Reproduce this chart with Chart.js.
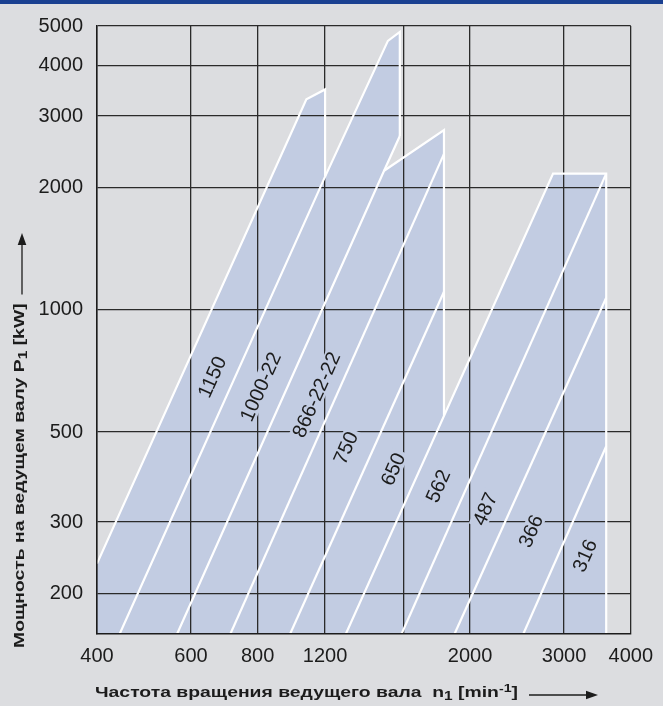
<!DOCTYPE html>
<html>
<head>
<meta charset="utf-8">
<title>Мощность на ведущем валу</title>
<script src="https://cdn.jsdelivr.net/npm/chart.js@4.4.1/dist/chart.umd.min.js"></script>
<style>
  html, body { margin: 0; padding: 0; background: #dcdde0; }
  #wrap { position: relative; width: 663px; height: 706px; overflow: hidden; }
  #bar { position: absolute; left: 0; top: 0; width: 663px; height: 4px; background: #1a4091; }
  canvas { display: block; }
</style>
</head>
<body>
<div id="wrap">
  <canvas id="chart" width="663" height="706"></canvas>
  <div id="bar"></div>
</div>
<script>
// Axis ticks (input speed n1, min^-1 / input power P1, kW)
const speedTicks = [400, 600, 800, 1070, 1500, 2000, 3000, 4000];
const speedTickLabels = ['400', '600', '800', '1200', '', '2000', '3000', '4000'];
const powerTicks = [200, 300, 500, 1000, 2000, 3000, 4000, 5000];
const powerTickLabels = ['200', '300', '500', '1000', '2000', '3000', '4000', '5000'];

// Outline of the shaded operating field
const fieldSpeed = [400, 400, 987, 1070, 1070, 1403, 1477, 1477, 1380, 1787, 1787, 2861, 3598, 3598];
const fieldPower = [159, 237, 3299, 3489, 2128, 4596, 4834, 2679, 2200, 2771, 549, 2164, 2164, 159];

// White limit lines of the sizes, [speed, power] pairs
const bound0 = [[400, 237], [987, 3299], [1070, 3489], [1070, 2128]];
const bound1 = [[441, 159], [1070, 2128], [1403, 4596], [1477, 4834], [1477, 2679]];
const bound2 = [[565, 159], [1380, 2200], [1477, 2679]];
const bound3 = [[1380, 2200], [1787, 2771], [1787, 549]];
const bound4 = [[711, 159], [1787, 2421]];
const bound5 = [[920, 159], [1787, 1108]];
const bound6 = [[1170, 159], [2861, 2164], [3598, 2164], [3598, 159]];
const bound7 = [[1488, 159], [3598, 2164]];
const bound8 = [[1870, 159], [3598, 1071]];
const bound9 = [[2516, 159], [3598, 461]];

// Size designations and where they sit
const sizeNames = ['1150', '1000-22', '866-22-22', '750', '650', '562', '487', '366', '316'];
const nameSpeed = [657, 810, 1030, 1170, 1435, 1742, 2133, 2599, 3282];
const namePower = [683, 646, 618, 457, 405, 368, 323, 285, 248];

const FILL = '#c2cce2';
const GRID = '#2a2a2a';
const INK = '#1c1c1c';
const FONT = '"Liberation Sans", Arial, sans-serif';

Chart.defaults.font.family = FONT;

const toPts = arr => arr.map(([x, y]) => ({ x, y }));
const bounds = [bound0, bound1, bound2, bound3, bound4, bound5, bound6, bound7, bound8, bound9];

const datasets = [
  {
    data: fieldSpeed.map((n, i) => ({ x: n, y: fieldPower[i] })),
    showLine: true,
    fill: 'shape',
    backgroundColor: FILL,
    borderColor: 'transparent',
    borderWidth: 0,
    pointRadius: 0
  },
  ...bounds.map(b => ({
    data: toPts(b),
    showLine: true,
    fill: false,
    borderColor: '#ffffff',
    borderWidth: 2.2,
    borderJoinStyle: 'miter',
    pointRadius: 0,
    clip: 0
  }))
];

// Rotated size names with a backing patch that interrupts the grid
const sizeNamePlugin = {
  id: 'sizeNames',
  afterDraw(chart) {
    const { ctx, scales: { x, y } } = chart;
    const a = bound7[0], b = bound7[1];
    const ang = Math.atan2(
      y.getPixelForValue(b[1]) - y.getPixelForValue(a[1]),
      x.getPixelForValue(b[0]) - x.getPixelForValue(a[0])
    );
    ctx.save();
    ctx.font = '20px ' + FONT;
    sizeNames.forEach((t, i) => {
      const px = x.getPixelForValue(nameSpeed[i]);
      const py = y.getPixelForValue(namePower[i]);
      ctx.save();
      ctx.translate(px, py);
      ctx.rotate(ang);
      const w = ctx.measureText(t).width;
      ctx.fillStyle = FILL;
      ctx.fillRect(-w / 2 - 3, -9, w + 6, 18);
      ctx.fillStyle = INK;
      ctx.textAlign = 'center';
      ctx.textBaseline = 'middle';
      ctx.fillText(t, 0, 1);
      ctx.restore();
    });
    ctx.restore();
  }
};

// Axis titles with sub/superscripts and arrows
function runWidth(ctx, runs, size) {
  let w = 0;
  for (const r of runs) {
    ctx.font = 'bold ' + (r.size || size) + 'px ' + FONT;
    w += ctx.measureText(r.t).width;
  }
  return w;
}
function drawRuns(ctx, runs, size) {
  let x = 0;
  for (const r of runs) {
    ctx.font = 'bold ' + (r.size || size) + 'px ' + FONT;
    ctx.fillText(r.t, x, r.dy || 0);
    x += ctx.measureText(r.t).width;
  }
  return x;
}
function arrow(ctx, x0, x1, yy) {
  ctx.lineWidth = 1.3;
  ctx.strokeStyle = INK;
  ctx.beginPath();
  ctx.moveTo(x0, yy);
  ctx.lineTo(x1 - 8, yy);
  ctx.stroke();
  ctx.beginPath();
  ctx.moveTo(x1, yy);
  ctx.lineTo(x1 - 12, yy - 4.3);
  ctx.lineTo(x1 - 12, yy + 4.3);
  ctx.closePath();
  ctx.fill();
}

const xTitleRuns = [
  { t: 'Частота вращения ведущего вала  n' },
  { t: '1', size: 12, dy: 3 },
  { t: ' [min' },
  { t: '-1', size: 11, dy: -5 },
  { t: ']' }
];
const yTitleRuns = [
  { t: 'Мощность на ведущем валу P' },
  { t: '1', size: 12, dy: 3 },
  { t: ' [kW]' }
];

const titlePlugin = {
  id: 'axisTitles',
  afterDraw(chart) {
    const ctx = chart.ctx;
    const size = 15;
    ctx.save();
    ctx.fillStyle = INK;
    ctx.textBaseline = 'alphabetic';
    const wx = runWidth(ctx, xTitleRuns, size);
    const sx = 423 / wx;
    // horizontal title
    ctx.save();
    ctx.translate(95, 697);
    ctx.scale(sx, 1);
    drawRuns(ctx, xTitleRuns, size);
    ctx.restore();
    arrow(ctx, 529, 598, 695);
    // vertical title
    const wy = runWidth(ctx, yTitleRuns, size) * sx;
    ctx.save();
    ctx.translate(24, 648);
    ctx.rotate(-Math.PI / 2);
    ctx.save();
    ctx.scale(sx, 1);
    drawRuns(ctx, yTitleRuns, size);
    ctx.restore();
    arrow(ctx, wy + 9, 648 - 233, -2);
    ctx.restore();
    ctx.restore();
  }
};

new Chart(document.getElementById('chart'), {
  type: 'scatter',
  data: { datasets },
  options: {
    responsive: false,
    animation: false,
    events: [],
    layout: { padding: { left: 0, right: 23, top: 21, bottom: 0 } },
    plugins: {
      legend: { display: false },
      tooltip: { enabled: false },
      filler: { drawTime: 'beforeDraw' }
    },
    scales: {
      x: {
        type: 'logarithmic',
        min: 400,
        max: 4000,
        afterBuildTicks: s => { s.ticks = speedTicks.map(v => ({ value: v })); },
        afterFit: s => { s.height = 72; },
        ticks: {
          autoSkip: false, maxRotation: 0, minRotation: 0, padding: 10,
          color: INK, font: { size: 20 },
          callback: (v, i) => speedTickLabels[i]
        },
        grid: { color: GRID, lineWidth: 1.3, drawTicks: false },
        border: { color: INK, width: 1.5, z: 1 }
      },
      y: {
        type: 'logarithmic',
        min: 159,
        max: 5000,
        afterBuildTicks: s => { s.ticks = powerTicks.map(v => ({ value: v })); },
        afterFit: s => { s.width = 97; },
        ticks: {
          autoSkip: false, padding: 14,
          color: INK, font: { size: 20 },
          callback: (v, i) => powerTickLabels[i]
        },
        grid: { color: GRID, lineWidth: 1.3, drawTicks: false },
        border: { color: INK, width: 1.5, z: 1 }
      }
    }
  },
  plugins: [sizeNamePlugin, titlePlugin]
});
</script>
</body>
</html>
